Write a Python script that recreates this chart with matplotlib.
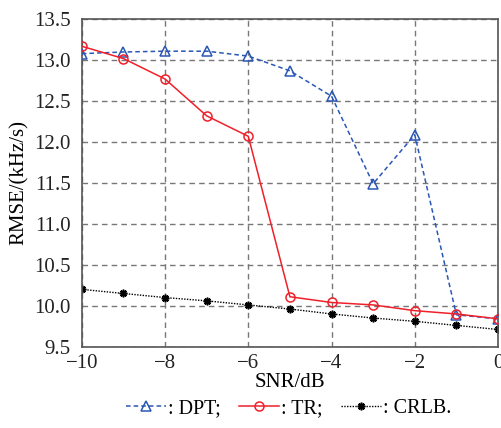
import numpy as np
import matplotlib.pyplot as plt

plt.rcParams['font.family'] = ['Liberation Serif', 'DejaVu Serif']

snr = [-10, -9, -8, -7, -6, -5, -4, -3, -2, -1, 0]
dpt = [13.08, 13.10, 13.11, 13.11, 13.05, 12.87, 12.56, 11.49, 12.09, 9.89, 9.84]
tr = [13.17, 13.02, 12.77, 12.32, 12.07, 10.11, 10.04, 10.01, 9.94, 9.90, 9.84]
crlb = [10.20, 10.15, 10.10, 10.06, 10.01, 9.96, 9.90, 9.85, 9.81, 9.76, 9.71]

fig, ax = plt.subplots(figsize=(5.02, 4.28), dpi=100)
fig.subplots_adjust(left=0.163, right=0.992, top=0.955, bottom=0.19)

ax.plot(snr, dpt, linestyle=(0, (3, 2)), color='#2a57b5', lw=1.1, marker='^',
        markersize=6.5, markerfacecolor='none', markeredgewidth=1.1, label=': DPT;', zorder=3)
ax.plot(snr, tr, linestyle='-', color='#f0202a', lw=1.1, marker='o',
        markersize=6.5, markerfacecolor='none', markeredgewidth=1.1, label=': TR;', zorder=4)
ax.plot(snr, crlb, linestyle=(0, (1, 1)), color='black', lw=1.0, marker=(8, 2, 0),
        markersize=5.5, markeredgewidth=1.2, label=': CRLB.', zorder=2)

ax.set_xlim(-10, 0)
ax.set_ylim(9.5, 13.5)
ax.set_xticks([-10, -8, -6, -4, -2, 0])
ax.set_xticklabels(['\u221210', '\u22128', '\u22126', '\u22124', '\u22122', '0'])
ax.set_yticks(np.arange(9.5, 13.51, 0.5))
ax.set_yticklabels(['%.1f' % v for v in np.arange(9.5, 13.51, 0.5)])
ax.tick_params(labelsize=15, length=0, colors='#222222')
ax.tick_params(axis='y', pad=8)
ax.tick_params(axis='x', pad=5)
ax.grid(True, linestyle=(0, (4, 3)), color='#777777', lw=1.0)
for s in ax.spines.values():
    s.set_color('#555555')
    s.set_linewidth(1.2)

ax.set_xlabel('SNR/dB', fontsize=15, labelpad=0)
ax.set_ylabel('RMSE/(kHz/s)', fontsize=15, labelpad=4)

fig.legend(loc='lower center', ncol=3, frameon=False, fontsize=14.5,
           bbox_to_anchor=(0.575, -0.02), handlelength=2.0, handletextpad=0.1,
           columnspacing=0.9)

fig.savefig('out.png', dpi=100)
